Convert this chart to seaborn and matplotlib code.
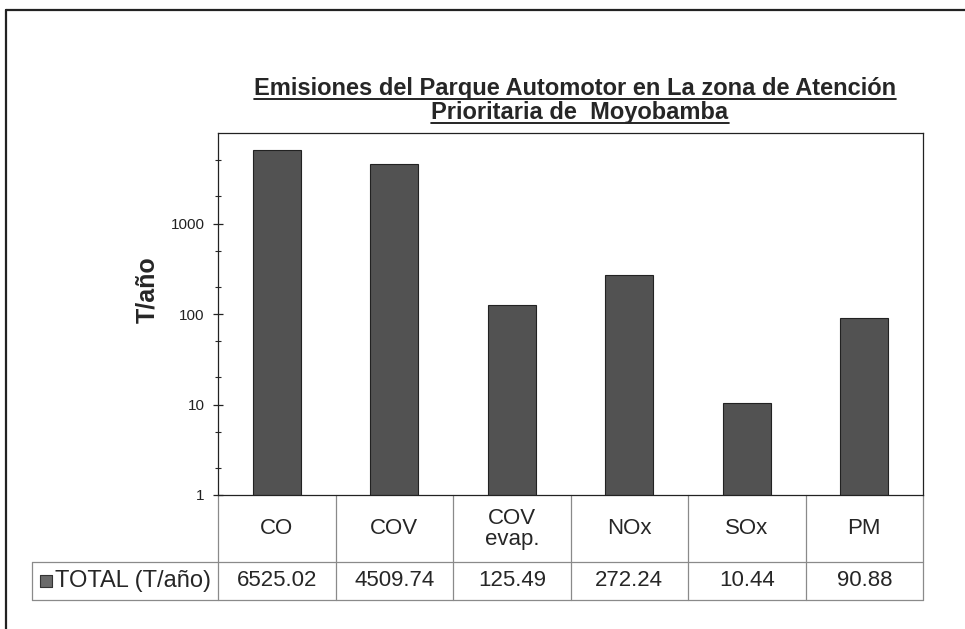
import seaborn as sns
import matplotlib
matplotlib.use('Agg')
import matplotlib.pyplot as plt
import matplotlib.transforms as mtransforms
from matplotlib.lines import Line2D
import pandas as pd
import numpy as np

# data
categorias = ['CO', 'COV', 'COV\nevap.', 'NOx', 'SOx', 'PM']
total_t_anio = [6525.02, 4509.74, 125.49, 272.24, 10.44, 90.88]
texto_total = ['6525.02', '4509.74', '125.49', '272.24', '10.44', '90.88']
serie = 'TOTAL (T/año)'
y_ticks = [1, 10, 100, 1000]
titulo = ['Emisiones del Parque Automotor en La zona de Atención',
          'Prioritaria de  Moyobamba']

sns.set_style('white')
plt.rcParams['font.family'] = ['Liberation Sans', 'DejaVu Sans']

W, H = 965, 629
fig = plt.figure(figsize=(W / 100, H / 100), dpi=100)
fig.patch.set_facecolor('white')

# axes box in pixels: left 218, right 923, top 133, bottom 495
ax = fig.add_axes([218 / W, (H - 495) / H, (923 - 218) / W, (495 - 133) / H])

df = pd.DataFrame({'cat': categorias, 'val': total_t_anio})
sns.barplot(data=df, x='cat', y='val', color='#525252', width=0.41,
            edgecolor='#222222', linewidth=0.8, saturation=1, ax=ax)
for p in ax.patches:
    p.set_facecolor('#525252')

ax.set_yscale('log')
ax.set_ylim(1, 10000)
ax.set_xlim(-0.5, len(categorias) - 0.5)
ax.set_yticks(y_ticks)
ax.set_yticklabels([str(t) for t in y_ticks], fontsize=11)
ax.yaxis.set_minor_locator(matplotlib.ticker.LogLocator(base=10, subs=[2, 5]))
ax.yaxis.set_minor_formatter(matplotlib.ticker.NullFormatter())
ax.tick_params(axis='y', which='major', direction='inout', length=7, width=0.9,
               left=True, colors='#222222', pad=6)
ax.tick_params(axis='y', which='minor', direction='inout', length=5, width=0.8, left=True)
ax.set_xticks([])
ax.set_xlabel('')
ax.set_ylabel('')
for s in ax.spines.values():
    s.set_visible(True)
    s.set_color('#222222')
    s.set_linewidth(0.9)

fig.text(147 / W, 1 - 290 / H, 'T/año', rotation=90, ha='center', va='center',
         fontsize=18, fontweight='bold')

# data table under the axes (x in data units, y in axes units)
trans = mtransforms.blended_transform_factory(ax.transData, ax.transAxes)
cw = 117.5
y_top = 0.0
y_mid = (495 - 562) / 362
y_bot = (495 - 600) / 362
x_left = -0.5 + (32 - 218) / cw
lc = '#8a8a8a'

def tline(xs, ys):
    ax.add_line(Line2D(xs, ys, transform=trans, color=lc, lw=0.9, clip_on=False))

tline([x_left, 5.5], [y_mid, y_mid])
tline([x_left, 5.5], [y_bot, y_bot])
tline([x_left, x_left], [y_mid, y_bot])
for k in range(len(categorias) + 1):
    tline([k - 0.5, k - 0.5], [y_top, y_bot])

for i, (c, t) in enumerate(zip(categorias, texto_total)):
    ax.text(i, (y_top + y_mid) / 2, c, transform=trans, ha='center', va='center',
            fontsize=16, linespacing=1.0)
    ax.text(i, (y_mid + y_bot) / 2, t, transform=trans, ha='center', va='center',
            fontsize=16)

# legend key + row label
x_key = x_left + 14 / cw
ax.scatter([x_key], [(y_mid + y_bot) / 2], marker='s', s=85, color='#6a6a6a',
           edgecolor='#333333', linewidth=0.8, transform=trans, clip_on=False)
ax.text(x_key + 9 / cw, (y_mid + y_bot) / 2, serie, transform=trans, ha='left',
        va='center', fontsize=17)

# title, two underlined lines
t1 = fig.text(575 / W, 1 - 88 / H, titulo[0], ha='center', va='center',
              fontsize=17, fontweight='bold')
t2 = fig.text(580 / W, 1 - 112 / H, titulo[1], ha='center', va='center',
              fontsize=17, fontweight='bold')
fig.canvas.draw()
r = fig.canvas.get_renderer()
for t in (t1, t2):
    bb = t.get_window_extent(r)
    yu = bb.y0 + 1
    fig.add_artist(Line2D([bb.x0 / W, bb.x1 / W], [yu / H, yu / H],
                          transform=fig.transFigure, color='black', lw=1.2))

# outer frame (top and left edges of the scanned chart box)
fig.add_artist(Line2D([6 / W, 1], [1 - 10 / H, 1 - 10 / H], transform=fig.transFigure,
                      color='#222222', lw=1.6))
fig.add_artist(Line2D([6 / W, 6 / W], [0, 1 - 10 / H], transform=fig.transFigure,
                      color='#222222', lw=1.6))

fig.savefig('out.png', dpi=100, facecolor='white')
